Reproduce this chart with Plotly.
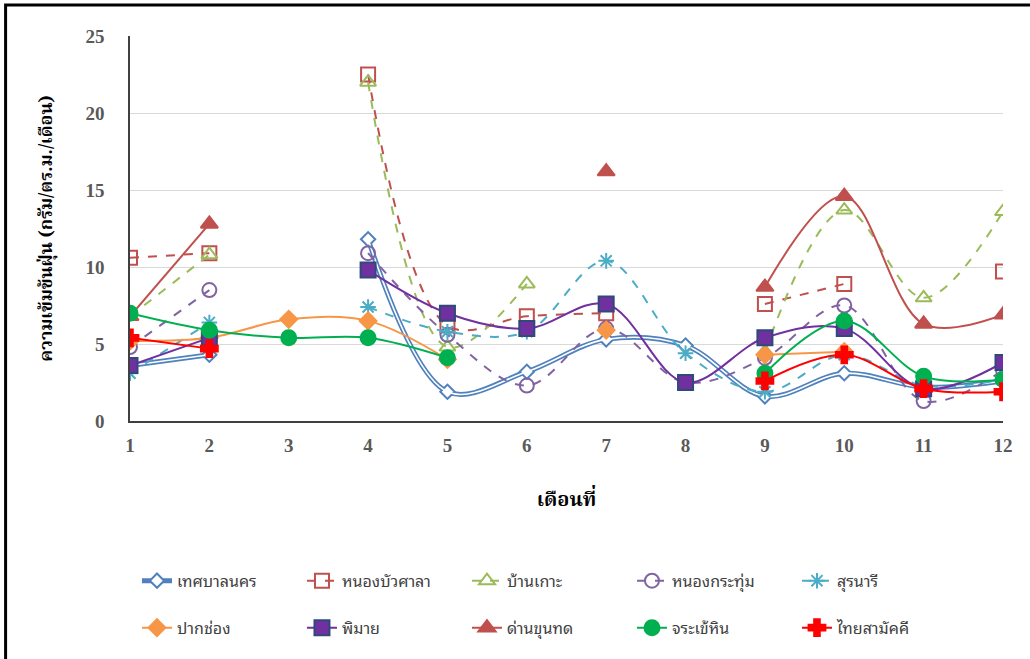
import plotly.graph_objects as go

# Months on the x axis
months = list(range(1, 13))
month_labels = [str(m) for m in months]

# Monthly dust fall per station (g/m²/month); None = no measurement
thetsaban = [3.6, 4.3, None, 11.8, 1.9, 3.2, 5.3, 4.9, 1.6, 3.1, 2.2, 2.6]
nongbua = [10.6, 10.9, None, 22.5, 6.2, 6.8, 7.0, None, 7.6, 8.9, None, 9.7]
bankao = [6.8, 10.8, None, 22.0, 4.8, 8.9, None, None, 4.5, 13.7, 8.0, 13.6]
nongkrathum = [4.8, 8.5, None, 10.9, 5.6, 2.3, 6.0, 2.5, 4.1, 7.5, 1.3, 3.3]
suranari = [3.1, 6.4, None, 7.4, 5.8, 5.8, 10.4, 4.4, 1.9, 4.3, 2.3, 2.7]
pakchong = [5.2, 5.4, 6.6, 6.5, 4.0, None, 5.9, None, 4.3, 4.5, None, None]
phimai = [3.6, 5.4, None, 9.8, 7.0, 6.0, 7.6, 2.5, 5.4, 6.0, 2.1, 3.8]
dankhunthot = [6.8, 12.8, None, None, None, None, 16.2, None, 8.7, 14.6, 6.3, 6.9]
chorakhehin = [7.0, 5.9, 5.4, 5.4, 4.1, None, None, None, 3.1, 6.5, 2.9, 2.7]
thaisamakkhi = [5.4, 4.7, None, None, None, None, None, None, 2.6, 4.3, 2.1, 1.9]

thai_font = "Noto Serif Thai, Noto Sans Thai Looped, Noto Sans Thai, Tahoma, sans-serif"
legend_font = "Noto Sans Thai Looped, Noto Sans Thai, Tahoma, sans-serif"
serif_font = "Liberation Serif, Times New Roman, serif"

fig = go.Figure()


def add_series(name, values, color, dash, symbol, size, fill=None,
               border=None, legend="legend", width=2.0):
    fig.add_trace(go.Scatter(
        x=months, y=values, name=name, mode="lines+markers",
        line=dict(color=color, width=width, dash=dash, shape="spline",
                  smoothing=1.0),
        marker=dict(symbol=symbol, size=size,
                    color=fill if fill is not None else color,
                    line=dict(color=border if border else color, width=2)),
        connectgaps=False, legend=legend,
    ))


# Municipal station: double line (wide blue stroke with a white core)
add_series("เทศบาลนคร", thetsaban, "#4F81BD", "solid", "diamond", 11,
           fill="white", border="#4F81BD", width=5)
fig.add_trace(go.Scatter(
    x=months, y=thetsaban, mode="lines", showlegend=False, hoverinfo="skip",
    line=dict(color="white", width=1.6, shape="spline", smoothing=1.0),
    connectgaps=False,
))
add_series("หนองบัวศาลา", nongbua, "#C0504D", "dash", "square-open", 14)
add_series("บ้านเกาะ", bankao, "#9BBB59", "dash", "triangle-up-open", 14)
add_series("หนองกระทุ่ม", nongkrathum, "#8064A2", "dash", "circle-open", 14)
add_series("สุรนารี", suranari, "#4BACC6", "dash", "asterisk-open", 13)

add_series("ปากช่อง", pakchong, "#F79646", "solid", "diamond", 13,
           legend="legend2")
add_series("พิมาย", phimai, "#7030A0", "solid", "square", 15,
           fill="#7030A0", border="#2E4A7A", legend="legend2")
add_series("ด่านขุนทด", dankhunthot, "#C0504D", "solid", "triangle-up", 15,
           legend="legend2")
add_series("จระเข้หิน", chorakhehin, "#00B050", "solid", "circle", 15,
           legend="legend2")
add_series("ไทยสามัคคี", thaisamakkhi, "#FF0000", "solid", "cross", 14,
           legend="legend2")

legend_common = dict(
    orientation="h", entrywidth=120, entrywidthmode="pixels",
    font=dict(family=legend_font, size=16, color="#404040"),
    bgcolor="rgba(0,0,0,0)", xanchor="left", yanchor="middle",
    itemsizing="trace",
)

fig.update_layout(
    width=1030, height=659,
    margin=dict(l=130, r=27, t=36, b=238),
    paper_bgcolor="white", plot_bgcolor="white",
    showlegend=True,
    legend=dict(x=0.008, y=-0.415, **legend_common),
    legend2=dict(x=0.008, y=-0.537, **legend_common),
    xaxis=dict(
        range=[1, 12], tickvals=months, ticktext=month_labels,
        showgrid=False, showline=True, linecolor="#404040", linewidth=1.5,
        ticks="", zeroline=False, ticklabelstandoff=6,
        tickfont=dict(family=serif_font, size=19, color="#595959",
                      weight="bold"),
        title=dict(text="<b>เดือนที่</b>", standoff=37,
                   font=dict(family=thai_font, size=20, color="black")),
    ),
    yaxis=dict(
        range=[0, 25], dtick=5, showgrid=True, gridcolor="#D9D9D9",
        gridwidth=1, showline=True, linecolor="#404040", linewidth=1.5,
        ticks="", zeroline=False, ticklabelstandoff=20,
        tickfont=dict(family=serif_font, size=19, color="#595959",
                      weight="bold"),
        title=dict(text="<b>ความเข้มข้นฝุ่น (กรัม/ตร.ม./เดือน)</b>",
                   standoff=28,
                   font=dict(family=thai_font, size=18, color="black")),
    ),
    shapes=[dict(
        type="rect", xref="paper", yref="paper",
        x0=-0.1425, x1=1.2, y0=-0.8, y1=1.0805,
        line=dict(color="black", width=3), fillcolor="rgba(0,0,0,0)",
        layer="above",
    )],
)

fig.write_html("out.html")
